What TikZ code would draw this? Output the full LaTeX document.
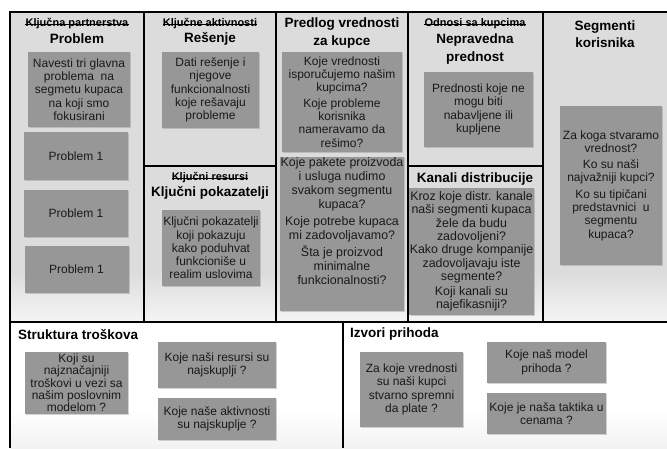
\documentclass[tikz,border=0pt]{standalone}
\usepackage{fontspec}
\setmainfont{Liberation Sans}
\usetikzlibrary{shadows}
\definecolor{panelgray}{HTML}{DCDCDC}
\definecolor{notegray}{HTML}{979797}

\begin{document}
\begin{tikzpicture}[x=1pt,y=-1pt,
	note/.style={fill=notegray, inner sep=0.5pt, align=center, text=black!90,
		font=\fontsize{12}{13.3}\selectfont,
		drop shadow={shadow xshift=1.2pt, shadow yshift=-1.2pt, opacity=0.35}},
	head/.style={font=\fontsize{13.5}{17.5}\selectfont\bfseries, align=center, inner sep=0pt},
	oldhead/.style={font=\fontsize{11}{13}\selectfont\bfseries, inner sep=0pt,
		append after command={(\tikzlastnode.mid west) edge[line width=0.8pt] (\tikzlastnode.mid east)}},
	frame/.style={line width=2.2pt},
	divider/.style={line width=1.3pt}]
				\useasboundingbox (0,0) rectangle (667,448);
				\fill[panelgray] (10,12) rectangle (667,272);
				\shade[top color=panelgray, bottom color=gray!8] (10,271.5) rectangle (667,322);
				\shade[top color=white, bottom color=gray!10] (10,410) rectangle (667,448);
				\draw[frame] (667,12) -- (10,12) -- (10,448);
				\draw[divider] (10,322) -- (667,322);
				\foreach \x in {144,276,408,543} \draw[divider] (\x,12) -- (\x,322);
				\draw[divider] (144,166) -- (276,166) (408,166) -- (543,166);
				\draw[divider] (343,322) -- (343,448);
				\node[oldhead] (partnerstva) at (77,24) {Ključna partnerstva};
				\node[head] (problem) at (77,39) {Problem};
				\node[oldhead] (aktivnosti) at (210,24) {Ključne aktivnosti};
				\node[head] (resenje) at (210,39) {Rešenje};
				\node[head] (predlog) at (342,33) {Predlog vrednosti\\za kupce};
				\node[oldhead] (odnosi) at (475,24) {Odnosi sa kupcima};
				\node[head] (nepravedna) at (475,49) {Nepravedna\\prednost};
				\node[head] (segmenti) at (605,34) {Segmenti\\korisnika};
				\node[oldhead] (resursi) at (210,178) {Ključni resursi};
				\node[head] (pokazatelji) at (210,193) {Ključni pokazatelji};
				\node[head] (kanali) at (475,179) {Kanali distribucije};
				\node[head, anchor=west] (troskovi) at (18,335) {Struktura troškova};
				\node[head, anchor=west] (prihodi) at (350,334) {Izvori prihoda};
				\node[note, minimum width=102, minimum height=75] (navesti) at (79,89.5) {Navesti tri glavna\\problema\ \ na\\segmetu kupaca\\na koji smo\\fokusirani};
				\node[note, minimum width=104, minimum height=48] (prva) at (76,156) {Problem 1};
				\node[note, minimum width=104, minimum height=47] (druga) at (76,213.5) {Problem 1};
				\node[note, minimum width=104, minimum height=47] (treca) at (76.5,269.5) {Problem 1};
				\node[note, minimum width=97, minimum height=76] (dati) at (210.5,90) {Dati rešenje i\\njegove\\funkcionalnosti\\koje rešavaju\\probleme};
				\node[note, minimum width=98, minimum height=76] (pokazuju) at (211,248) {Ključni pokazatelji\\koji pokazuju\\kako poduhvat\\funkcioniše u\\realim uslovima};
				\node[note, minimum width=120, minimum height=100] (vrednosti) at (342,102) {Koje vrednosti\\isporučujemo našim\\kupcima?\\[2pt]Koje probleme\\korisnika\\nameravamo da\\rešimo?};
				\node[note, minimum width=120, minimum height=152, font=\fontsize{12.4}{14}\selectfont] (paketi) at (342,234) {Koje pakete proizvoda\\i usluga nudimo\\svakom segmentu\\kupaca?\\[3pt]Koje potrebe kupaca\\mi zadovoljavamo?\\[3pt]Šta je proizvod\\minimalne\\funkcionalnosti?\\[12pt]};
				\node[note, minimum width=109, minimum height=75] (prednosti) at (478.5,109.5) {Prednosti koje ne\\mogu biti\\nabavljene ili\\kupljene};
				\node[note, minimum width=121, minimum height=127, font=\fontsize{12.4}{13.3}\selectfont] (kroz) at (471.5,251.5) {Kroz koje distr. kanale\\naši segmenti kupaca\\žele da budu\\zadovoljeni?\\Kako druge kompanije\\zadovoljavaju iste\\segmente?\\[2pt]Koji kanali su\\najefikasniji?};
				\node[note, minimum width=102, minimum height=159] (zakoga) at (611,185.5) {Za koga stvaramo\\vrednost?\\[3pt]Ko su naši\\najvažniji kupci?\\[3pt]Ko su tipičani\\predstavnici\ \ u\\segmentu\\kupaca?};
				\node[note, minimum width=103, minimum height=62, font=\fontsize{12}{12.3}\selectfont] (najznacajniji) at (76.5,383) {Koji su\\najznačajniji\\troškovi u vezi sa\\našim poslovnim\\modelom ?};
				\node[note, minimum width=118, minimum height=46] (najskuplji) at (217,365) {Koje naši resursi su\\najskuplji ?};
				\node[note, minimum width=118, minimum height=42] (najskuplje) at (217,419) {Koje naše aktivnosti\\su najskuplje ?};
				\node[note, minimum width=103, minimum height=75] (spremni) at (411.5,389.5) {Za koje vrednosti\\su naši kupci\\stvarno spremni\\da plate ?};
				\node[note, minimum width=119, minimum height=41] (model) at (546.5,362.5) {Koje naš model\\prihoda ?};
				\node[note, minimum width=119, minimum height=41] (taktika) at (546.5,413.5) {Koje je naša taktika u\\cenama ?};
			\end{tikzpicture}
\end{document}
